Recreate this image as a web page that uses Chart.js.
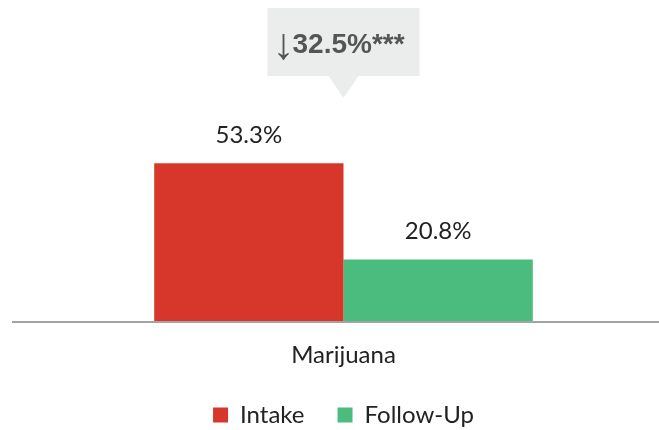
<!DOCTYPE html>
<html>
<head>
<meta charset="utf-8">
<script src="https://cdn.jsdelivr.net/npm/chart.js@4.4.1/dist/chart.umd.min.js"></script>
<style>
  html, body { margin: 0; padding: 0; background: #fff; }
  #wrap { width: 659px; height: 430px; }
</style>
</head>
<body>
<div id="wrap"><canvas id="substanceChart" width="659" height="430"></canvas></div>
<script>
/*=========================================
DATA
=========================================*/

const categories = ["Marijuana"];
const seriesNames = ["Intake", "Follow-Up"];
const intakeValues = [53.3];
const followUpValues = [20.8];
const changeSignificance = "***";

const seriesColors = ["#D7372A", "#4CBB7E"];
const labelFont = "Lato, 'Open Sans', sans-serif";

/*=========================================
VALUE LABELS ABOVE BARS
=========================================*/

const valueLabels = {
  id: "valueLabels",
  afterDatasetsDraw(chart) {
    const ctx = chart.ctx;
    ctx.save();
    ctx.font = "24px " + labelFont;
    ctx.fillStyle = "#222";
    ctx.textAlign = "center";
    ctx.textBaseline = "alphabetic";
    chart.data.datasets.forEach((ds, i) => {
      chart.getDatasetMeta(i).data.forEach((bar, j) => {
        ctx.fillText(ds.data[j].toFixed(1) + "%", bar.x, bar.y - 20);
      });
    });
    ctx.restore();
  }
};

/*=========================================
BASELINE + CHANGE CALLOUT
=========================================*/

const changeCallout = {
  id: "changeCallout",
  afterDraw(chart) {
    const ctx = chart.ctx;
    const area = chart.chartArea;
    const xScale = chart.scales.x;
    const yScale = chart.scales.y;

    // baseline runs past the plot area on the left
    ctx.save();
    ctx.strokeStyle = "#A3A3A3";
    ctx.lineWidth = 2;
    ctx.beginPath();
    ctx.moveTo(12, yScale.getPixelForValue(0) + 1);
    ctx.lineTo(area.right, yScale.getPixelForValue(0) + 1);
    ctx.stroke();

    const cx = xScale.getPixelForValue(0);
    const change = intakeValues[0] - followUpValues[0];
    const boxW = 152, boxH = 68, boxTop = 8;
    const left = cx - 76;

    ctx.fillStyle = "#EBECEC";
    ctx.fillRect(left, boxTop, boxW, boxH);
    ctx.beginPath();
    ctx.moveTo(cx - 15, boxTop + boxH);
    ctx.lineTo(cx + 15, boxTop + boxH);
    ctx.lineTo(cx, boxTop + boxH + 22);
    ctx.closePath();
    ctx.fill();

    ctx.fillStyle = "#555";
    ctx.textBaseline = "alphabetic";
    ctx.textAlign = "left";
    ctx.font = "44px 'Liberation Sans', Arial, sans-serif";
    ctx.fillText("\u2193", left + 5, 59);
    ctx.font = "bold 28px 'Liberation Sans', Arial, sans-serif";
    ctx.fillText(change.toFixed(1) + "%" + changeSignificance, left + 25, 53);
    ctx.restore();
  }
};

/*=========================================
CHART
=========================================*/

const canvas = document.getElementById("substanceChart");

new Chart(canvas, {
  type: "bar",
  data: {
    labels: categories,
    datasets: [
      {
        label: seriesNames[0],
        data: intakeValues,
        backgroundColor: seriesColors[0]
      },
      {
        label: seriesNames[1],
        data: followUpValues,
        backgroundColor: seriesColors[1]
      }
    ]
  },
  options: {
    responsive: false,
    animation: false,
    devicePixelRatio: 1,
    layout: {
      padding: { left: 28, right: 0, top: 25, bottom: 0 }
    },
    datasets: {
      bar: {
        categoryPercentage: 0.6,
        barPercentage: 1.0
      }
    },
    scales: {
      x: {
        grid: { display: false, drawTicks: false },
        border: { display: false },
        ticks: {
          color: "#222",
          padding: 20,
          font: { family: labelFont, size: 24 }
        },
        afterFit(scale) {
          scale.height = 49;
        }
      },
      y: {
        display: false,
        min: 0,
        max: 100
      }
    },
    plugins: {
      legend: {
        position: "bottom",
        maxHeight: 60,
        labels: {
          color: "#222",
          boxWidth: 15,
          boxHeight: 15,
          padding: 33,
          font: { family: labelFont, size: 24 }
        }
      },
      tooltip: { enabled: false }
    }
  },
  plugins: [valueLabels, changeCallout]
});
</script>
</body>
</html>
